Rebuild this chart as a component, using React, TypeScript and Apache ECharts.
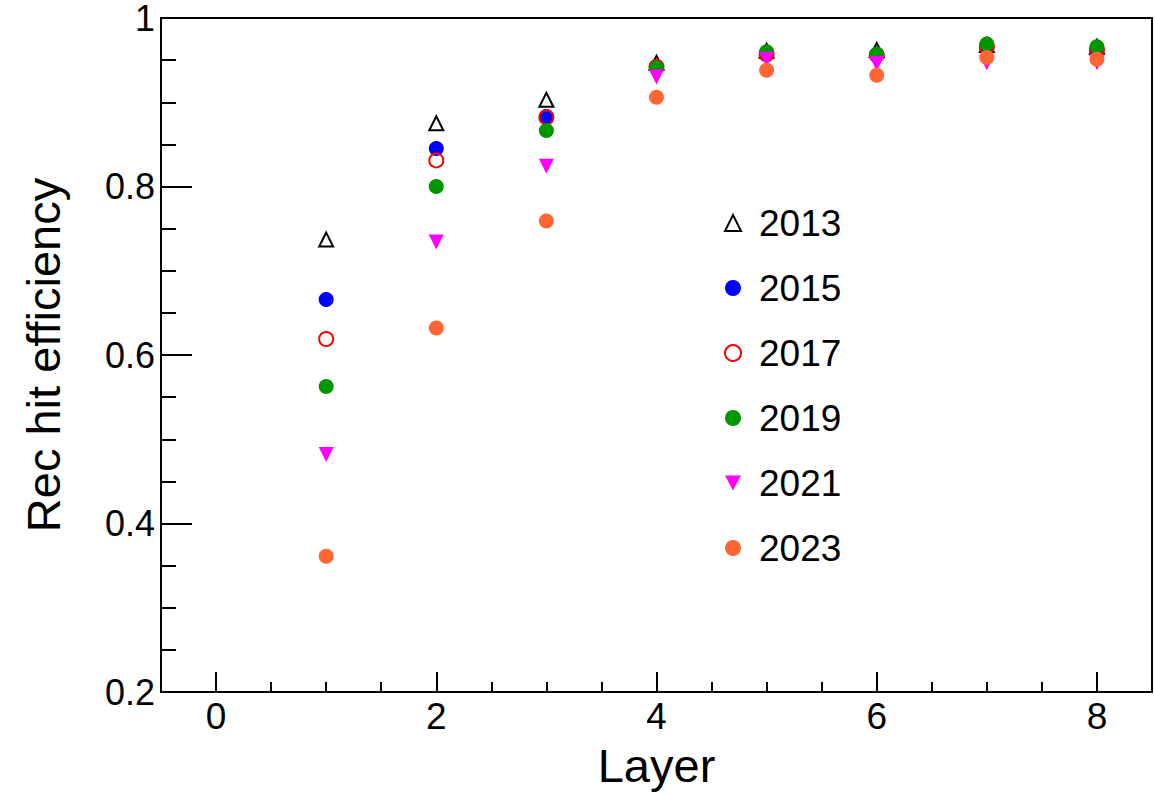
import React, { useEffect, useRef } from "react";
import * as echarts from "echarts";

const layers = [1, 2, 3, 4, 5, 6, 7, 8];
const years = ["2013", "2015", "2017", "2019", "2021", "2023"];
const eff2013 = [0.737, 0.875, 0.903, 0.947, 0.961, 0.962, 0.968, 0.966];
const eff2015 = [0.666, 0.845, 0.883, 0.942, 0.958, 0.957, 0.966, 0.963];
const eff2017 = [0.619, 0.831, 0.882, 0.942, 0.957, 0.956, 0.966, 0.962];
const eff2019 = [0.5625, 0.8, 0.8665, 0.941, 0.96, 0.957, 0.969, 0.966];
const eff2021 = [0.482, 0.734, 0.824, 0.93, 0.951, 0.946, 0.947, 0.947];
const eff2023 = [0.361, 0.632, 0.759, 0.906, 0.938, 0.932, 0.953, 0.951];

const xMajorTicks = [0, 2, 4, 6, 8];
const xMinorTicks = [0.5, 1, 1.5, 2.5, 3, 3.5, 4.5, 5, 5.5, 6.5, 7, 7.5];

const FONT = "'Liberation Sans', Arial, Helvetica, sans-serif";

export default function App() {
  const ref = useRef<HTMLDivElement>(null);
  useEffect(() => {
    if (!ref.current) return;
    const chart = echarts.init(ref.current, null, { renderer: "svg" });
    const toData = (arr: number[]) => layers.map((l, i) => [l, arr[i]]);
    const styles: any[] = [
      { symbol: "triangle", symbolSize: 14, itemStyle: { color: "rgba(0,0,0,0)", borderColor: "#000", borderWidth: 2, opacity: 1 } },
      { symbol: "circle", symbolSize: 15, itemStyle: { color: "#0000ff", opacity: 1 } },
      { symbol: "circle", symbolSize: 14, itemStyle: { color: "rgba(0,0,0,0)", borderColor: "#ff0000", borderWidth: 2, opacity: 1 } },
      { symbol: "circle", symbolSize: 15, itemStyle: { color: "#009600", opacity: 1 } },
      { symbol: "triangle", symbolSize: 15, symbolRotate: 180, itemStyle: { color: "#ff00ff", opacity: 1 } },
      { symbol: "circle", symbolSize: 15, itemStyle: { color: "#ff6633", opacity: 1 } },
    ];
    const all = [eff2013, eff2015, eff2017, eff2019, eff2021, eff2023];
    chart.setOption({
      animation: false,
      backgroundColor: "#fff",
      grid: {
        left: 161,
        right: 3,
        top: 17,
        bottom: 101,
        show: true,
        borderColor: "#000",
        borderWidth: 2,
        backgroundColor: "transparent",
      },
      legend: {
        data: years.map((y) => (y === "2021" ? { name: y, icon: "path://M0 0L10 0L5 9.5Z" } : { name: y })),
        orient: "vertical",
        left: 719,
        top: 198,
        itemWidth: 16,
        itemHeight: 16,
        itemGap: 25,
        textStyle: { fontSize: 37, fontFamily: FONT, color: "#000", lineHeight: 40, padding: [0, 0, 0, 13] },
      },
      xAxis: [
        {
          type: "value",
          min: -0.5,
          max: 8.5,
          name: "Layer",
          nameLocation: "middle",
          nameGap: 50,
          nameTextStyle: { fontSize: 47, fontFamily: FONT, color: "#000" },
          axisLine: { show: true, onZero: false, lineStyle: { color: "#000", width: 2 } },
          axisTick: { show: true, inside: true, length: 20, lineStyle: { color: "#000", width: 2 }, customValues: xMajorTicks },
          axisLabel: { show: true, fontSize: 37, fontFamily: FONT, color: "#000", margin: 6, customValues: xMajorTicks },
          splitLine: { show: false },
        },
        {
          type: "value",
          min: -0.5,
          max: 8.5,
          position: "bottom",
          axisLine: { show: false, onZero: false },
          axisTick: { show: true, inside: true, length: 10, lineStyle: { color: "#000", width: 2 }, customValues: xMinorTicks },
          axisLabel: { show: false },
          splitLine: { show: false },
        },
      ],
      yAxis: {
        type: "value",
        min: 0.2,
        max: 1,
        interval: 0.2,
        name: "Rec hit efficiency",
        nameLocation: "middle",
        nameGap: 94,
        nameTextStyle: { fontSize: 47, fontFamily: FONT, color: "#000" },
        axisLine: { show: true, onZero: false, lineStyle: { color: "#000", width: 2 } },
        axisTick: { show: true, inside: true, length: 31, lineStyle: { color: "#000", width: 2 } },
        minorTick: { show: true, splitNumber: 4, length: 15, lineStyle: { color: "#000", width: 2 } },
        axisLabel: {
          fontSize: 36,
          fontFamily: FONT,
          color: "#000",
          margin: 6,
          lineHeight: 30,
          formatter: (v: number) => (Math.abs(v - 1) < 1e-9 ? "1" : v.toFixed(1)),
        },
        splitLine: { show: false },
        minorSplitLine: { show: false },
      },
      series: all.map((arr, i) => ({
        name: years[i],
        type: "scatter",
        xAxisIndex: 0,
        data: toData(arr),
        ...styles[i],
        z: 2 + i,
      })),
    });
    return () => chart.dispose();
  }, []);
  return <div ref={ref} style={{ position: "fixed", left: 0, top: 0, width: 1155, height: 794 }} />;
}
